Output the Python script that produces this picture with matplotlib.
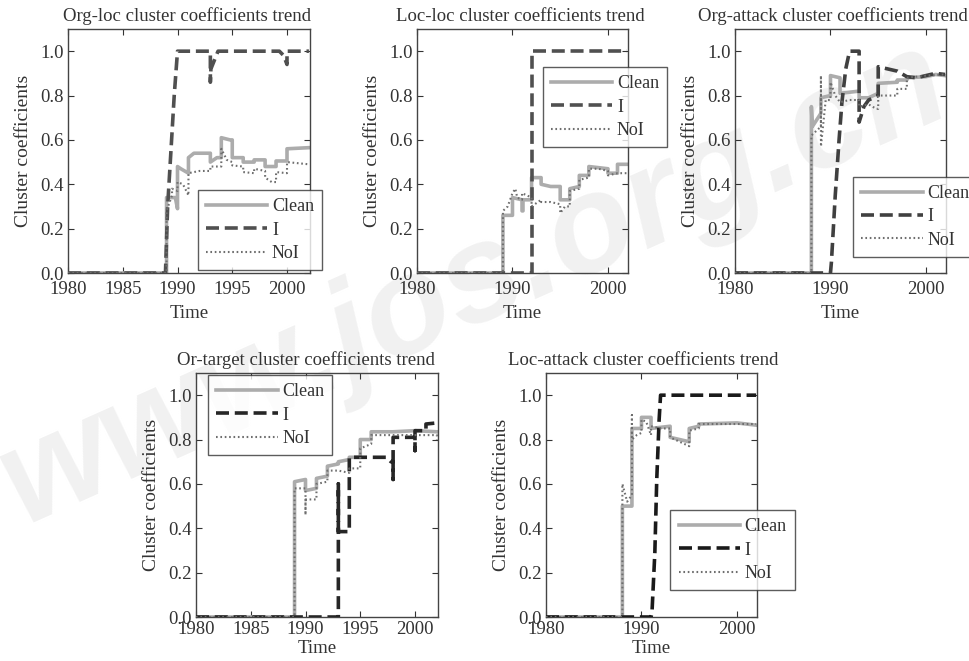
"""
Cluster coefficients trend — five panels (Clean / I / NoI)
"""

import matplotlib

matplotlib.use("Agg")
import matplotlib.pyplot as plt

plt.rcParams["font.family"] = ["Liberation Serif", "DejaVu Serif"]
plt.rcParams["axes.unicode_minus"] = False

# ---- data ----
years_ticks_wide = [1980, 1985, 1990, 1995, 2000]
years_ticks_narrow = [1980, 1990, 2000]
y_ticks = [0.0, 0.2, 0.4, 0.6, 0.8, 1.0]
series_labels = ["Clean", "I", "NoI"]

# Org-loc
orgloc_clean_x = [1980, 1989, 1989, 1989.8, 1990, 1990, 1990.3, 1991, 1991, 1991.5, 1993, 1993, 1993.6, 1994, 1994,
                  1994.8, 1995, 1995, 1996, 1996, 1997, 1997, 1998, 1998, 1999, 1999, 2000, 2000, 2002]
orgloc_clean_y = [0, 0, 0.34, 0.34, 0.29, 0.48, 0.47, 0.45, 0.52, 0.54, 0.54, 0.50, 0.52, 0.52, 0.61,
                  0.60, 0.60, 0.52, 0.52, 0.50, 0.50, 0.51, 0.51, 0.48, 0.48, 0.505, 0.505, 0.56, 0.565]
orgloc_i_x = [1980, 1988.9, 1989.1, 1989.4, 1989.7, 1990, 1993, 1993, 1993.05, 1993.7, 1999.3, 1999.7, 2000, 2000, 2002]
orgloc_i_y = [0, 0, 0.30, 0.55, 0.80, 1.0, 1.0, 0.86, 0.92, 1.0, 1.0, 0.98, 0.94, 1.0, 1.0]
orgloc_noi_x = [1980, 1989, 1989, 1989.5, 1989.5, 1990, 1990, 1990.5, 1991, 1991, 1992, 1993, 1993, 1994, 1994,
                1994.5, 1995, 1995, 1996, 1996, 1997, 1997, 1998, 1998, 1998.6, 1999, 1999, 2000, 2000, 2002]
orgloc_noi_y = [0, 0, 0.28, 0.35, 0.38, 0.37, 0.41, 0.40, 0.35, 0.45, 0.46, 0.46, 0.48, 0.48, 0.56,
                0.51, 0.50, 0.485, 0.48, 0.455, 0.45, 0.47, 0.46, 0.43, 0.41, 0.41, 0.455, 0.45, 0.50, 0.49]

# Loc-loc
locloc_clean_x = [1980, 1989, 1989, 1990, 1990, 1991, 1991, 1991.1, 1991.1, 1992, 1992, 1993, 1993, 1994, 1995, 1995,
                  1996, 1996, 1997, 1997, 1998, 1998, 1999, 2000, 2000, 2001, 2001, 2002]
locloc_clean_y = [0, 0, 0.26, 0.26, 0.34, 0.33, 0.28, 0.28, 0.33, 0.33, 0.43, 0.43, 0.40, 0.39, 0.39, 0.33,
                  0.33, 0.38, 0.39, 0.44, 0.44, 0.48, 0.475, 0.47, 0.45, 0.45, 0.49, 0.49]
locloc_i_x = [1980, 1992, 1992, 2002]
locloc_i_y = [0, 0, 1.0, 1.0]
locloc_noi_x = [1980, 1989, 1989, 1989.5, 1990, 1990.3, 1990.5, 1991, 1991, 1992, 1992, 1993, 1993, 1994, 1995, 1995,
                1995.5, 1996, 1996, 1997, 1997, 1998, 1998, 1999, 2000, 2000, 2001, 2002]
locloc_noi_y = [0, 0, 0.28, 0.30, 0.36, 0.38, 0.34, 0.33, 0.36, 0.34, 0.30, 0.33, 0.32, 0.32, 0.31, 0.27,
                0.30, 0.30, 0.37, 0.38, 0.42, 0.43, 0.47, 0.47, 0.46, 0.44, 0.45, 0.45]

# Org-attack
orgatt_clean_x = [1980, 1988, 1988, 1988.1, 1989, 1989, 1990, 1990, 1991, 1991, 1993, 1993, 1994, 1994.5, 1995, 1995,
                  1997, 1997, 1998, 1998, 2000, 2001, 2002]
orgatt_clean_y = [0, 0, 0.75, 0.66, 0.72, 0.79, 0.80, 0.89, 0.88, 0.81, 0.82, 0.79, 0.79, 0.80, 0.81, 0.855,
                  0.86, 0.87, 0.87, 0.88, 0.885, 0.895, 0.89]
orgatt_i_x = [1980, 1990, 1990.1, 1990.5, 1990.9, 1991.2, 1991.6, 1992, 1993, 1993, 1993.5, 1994, 1995, 1995, 1996,
              1997, 1998, 1999, 2000, 2001, 2002]
orgatt_i_y = [0, 0, 0.05, 0.35, 0.60, 0.77, 0.92, 1.0, 1.0, 0.68, 0.75, 0.78, 0.80, 0.93, 0.92,
              0.91, 0.885, 0.88, 0.89, 0.90, 0.895]
orgatt_noi_x = [1980, 1988, 1988, 1988.5, 1989, 1989, 1989, 1989.5, 1990, 1990, 1990.5, 1991, 1992, 1993, 1993, 1994,
                1994.8, 1995, 1995, 1997, 1997, 1998, 1998, 2000, 2002]
orgatt_noi_y = [0, 0, 0.62, 0.64, 0.66, 0.89, 0.57, 0.78, 0.78, 0.86, 0.80, 0.77, 0.78, 0.78, 0.75, 0.76,
                0.74, 0.74, 0.80, 0.80, 0.83, 0.83, 0.88, 0.89, 0.895]

# Or-target
ortgt_clean_x = [1980, 1989, 1989, 1990, 1990, 1991, 1991, 1992, 1992, 1993, 1993, 1994, 1994, 1995, 1995, 1996, 1996,
                 1998, 2000, 2002]
ortgt_clean_y = [0, 0, 0.61, 0.62, 0.57, 0.58, 0.625, 0.635, 0.68, 0.69, 0.70, 0.71, 0.72, 0.72, 0.80, 0.80, 0.835,
                 0.835, 0.84, 0.835]
ortgt_i_x = [1980, 1993, 1993, 1993, 1994, 1994, 1997.4, 1997.8, 1998, 1998, 1998, 2000, 2000, 2000, 2001, 2001, 2002]
ortgt_i_y = [0, 0, 0.60, 0.385, 0.385, 0.72, 0.72, 0.70, 0.70, 0.62, 0.81, 0.81, 0.75, 0.84, 0.84, 0.87, 0.875]
ortgt_noi_x = [1980, 1989, 1989, 1990, 1990, 1990, 1991, 1991, 1992, 1992, 1993, 1993, 1994, 1994, 1995, 1995, 1996,
               1996, 2000, 2002, 2002]
ortgt_noi_y = [0, 0, 0.58, 0.58, 0.46, 0.53, 0.53, 0.60, 0.61, 0.66, 0.66, 0.66, 0.65, 0.67, 0.67, 0.76, 0.78,
               0.82, 0.82, 0.82, 0.80]

# Loc-attack
locatt_clean_x = [1980, 1988, 1988, 1989, 1989, 1990, 1990, 1991, 1991, 1993, 1993, 1995, 1995, 1996, 1996, 2000, 2002]
locatt_clean_y = [0, 0, 0.50, 0.50, 0.85, 0.85, 0.90, 0.90, 0.85, 0.86, 0.81, 0.79, 0.85, 0.86, 0.87, 0.875, 0.865]
locatt_i_x = [1980, 1991, 1991.1, 1991.4, 1991.6, 1991.85, 1992, 2002]
locatt_i_y = [0, 0, 0.02, 0.29, 0.62, 0.89, 1.0, 1.0]
locatt_noi_x = [1980, 1988, 1988, 1988.5, 1989, 1989, 1989, 1989.5, 1990, 1990, 1990.5, 1991, 1991, 1992, 1993, 1993,
                1995, 1995, 1996, 1996, 2002]
locatt_noi_y = [0, 0, 0.60, 0.52, 0.55, 0.91, 0.80, 0.82, 0.83, 0.89, 0.88, 0.82, 0.86, 0.85, 0.85, 0.81,
                0.77, 0.84, 0.85, 0.87, 0.87]


def draw_panel(fig, rect, title, clean, i_line, noi, xticks, legend_xy, title_x=0.49,
               i_color="#505050", bottom_row=False):
    """一个子图：三条曲线 + 图例"""
    ax = fig.add_axes(rect)
    ax.set_facecolor("none")
    ax.plot(clean[0], clean[1], color="#acacac", lw=2.6, label=series_labels[0], zorder=2)
    ax.plot(i_line[0], i_line[1], color=i_color, lw=2.6, ls=(0, (3.6, 1.6)), label=series_labels[1], zorder=3)
    ax.plot(noi[0], noi[1], color="#6e6e6e", lw=1.5, ls=(0, (0.8, 1.3)), label=series_labels[2], zorder=4)

    ax.set_xlim(1980, 2002.1)
    ax.set_ylim(0, 1.1)
    ax.set_xticks(xticks)
    ax.set_yticks(y_ticks)
    ax.set_yticklabels([f"{v:.1f}" for v in y_ticks])
    ax.tick_params(direction="in", length=4, top=True, right=True, labelsize=13.5, colors="#333333", pad=3)
    ax.tick_params(axis="x", pad=3 if bottom_row else 6)
    for s in ax.spines.values():
        s.set_color("#444444")
        s.set_linewidth(1.0)
    ax.set_title(title, fontsize=13.5, color="#333333", pad=6, x=title_x)
    ax.set_xlabel("Time", fontsize=13.5, color="#333333", labelpad=1 if bottom_row else 5)
    ax.set_ylabel("Cluster coefficients", fontsize=14, color="#333333", labelpad=6)

    leg = ax.legend(loc="lower left", bbox_to_anchor=legend_xy, bbox_transform=ax.transAxes,
                    fontsize=13, frameon=True, fancybox=False, handlelength=3.4, handletextpad=0.25,
                    labelspacing=0.35, borderpad=0.45, borderaxespad=0)
    leg.get_frame().set_edgecolor("#333333")
    leg.get_frame().set_linewidth(1.0)
    leg.set_zorder(10)
    for t in leg.get_texts():
        t.set_color("#333333")
    return ax


fig = plt.figure(figsize=(9.69, 6.61), dpi=100)
fig.patch.set_facecolor("white")

# watermark (faint)
fig.text(0.49, 0.57, "www.jos.org.cn", rotation=24, fontsize=100, color="#f1f1f1",
         family="Liberation Sans", fontweight="bold", style="italic", ha="center", va="center", zorder=-5)

W, H = 969, 661
top_b = (H - 273) / H
bot_b = (H - 617) / H
h = 244 / H

draw_panel(fig, [68 / W, top_b, 242 / W, h], "Org-loc cluster coefficients trend",
           (orgloc_clean_x, orgloc_clean_y), (orgloc_i_x, orgloc_i_y), (orgloc_noi_x, orgloc_noi_y),
           years_ticks_wide, (0.537, 0.012), title_x=0.49)
draw_panel(fig, [417 / W, top_b, 211 / W, h], "Loc-loc cluster coefficients trend",
           (locloc_clean_x, locloc_clean_y), (locloc_i_x, locloc_i_y), (locloc_noi_x, locloc_noi_y),
           years_ticks_narrow, (0.597, 0.516), title_x=0.49)
draw_panel(fig, [735 / W, top_b, 211 / W, h], "Org-attack cluster coefficients trend",
           (orgatt_clean_x, orgatt_clean_y), (orgatt_i_x, orgatt_i_y), (orgatt_noi_x, orgatt_noi_y),
           years_ticks_narrow, (0.56, 0.066), title_x=0.465, i_color="#404040")
draw_panel(fig, [196 / W, bot_b, 242 / W, h], "Or-target cluster coefficients trend",
           (ortgt_clean_x, ortgt_clean_y), (ortgt_i_x, ortgt_i_y), (ortgt_noi_x, ortgt_noi_y),
           years_ticks_wide, (0.05, 0.664), title_x=0.455, i_color="#262626", bottom_row=True)
draw_panel(fig, [546 / W, bot_b, 211 / W, h], "Loc-attack cluster coefficients trend",
           (locatt_clean_x, locatt_clean_y), (locatt_i_x, locatt_i_y), (locatt_noi_x, locatt_noi_y),
           years_ticks_narrow, (0.59, 0.11), title_x=0.46, i_color="#1a1a1a", bottom_row=True)

fig.savefig("out.png", dpi=100)
plt.close(fig)
